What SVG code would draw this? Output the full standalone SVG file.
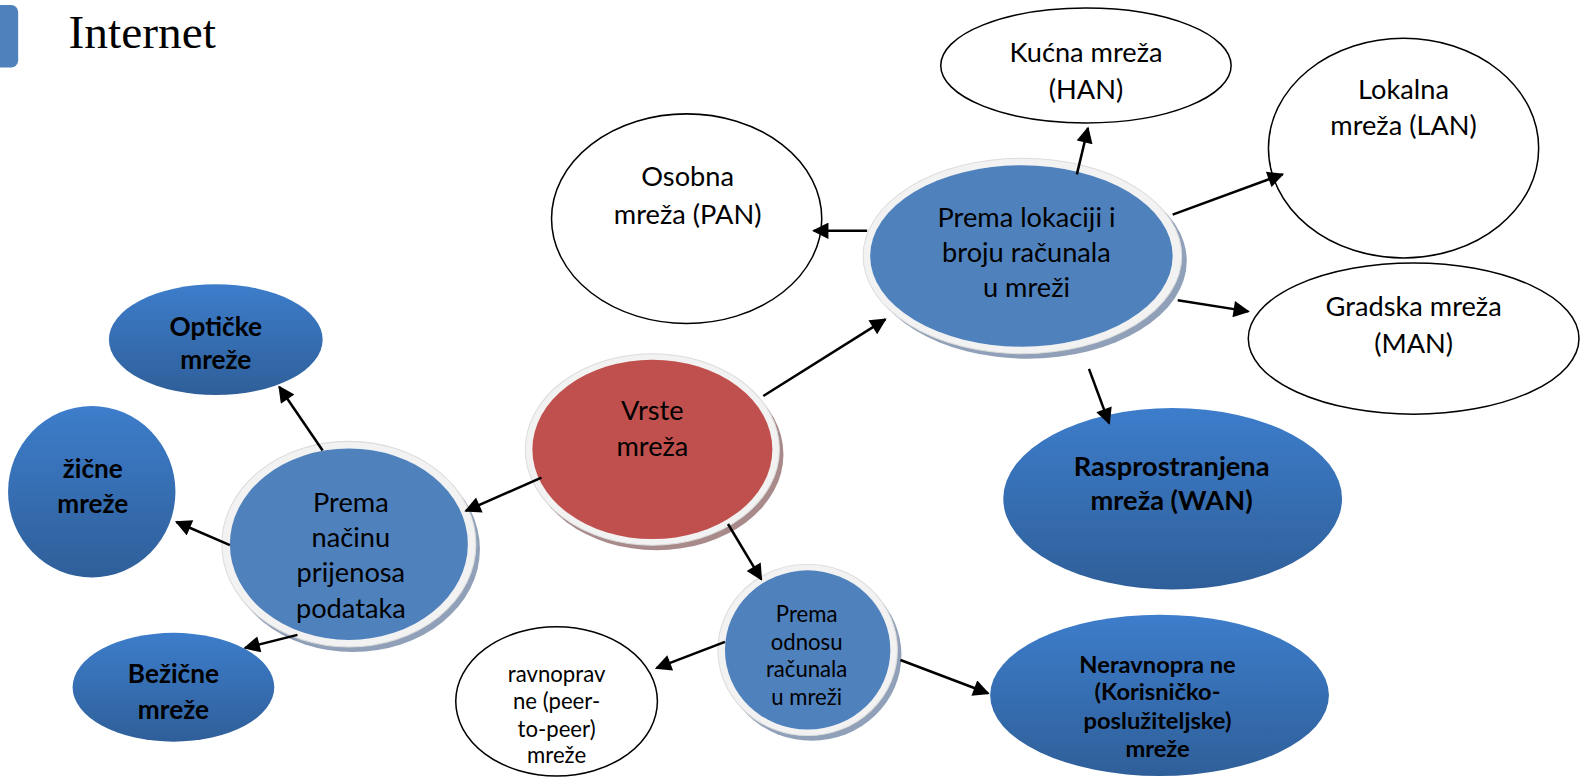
<svg xmlns="http://www.w3.org/2000/svg" width="1581" height="781" viewBox="0 0 1581 781">
<defs>
<style>
.t{font-family:Lato,"Noto Sans",sans-serif;fill:#000;text-anchor:middle}
.r{font-size:27px}
.b{font-size:26px;font-weight:bold}
.s{font-size:22px}
.nb{font-size:23.5px;font-weight:bold}
.wn{fill:#fff;stroke:#000;stroke-width:1.5}
.rim{fill:#f2f2f2;stroke:#dcdcdc;stroke-width:1}
.pb{fill:#4f81bd}
.sb{fill:#8fa0b8}
.sr{fill:#a88a8a}
.bb{fill:url(#gb)}
.c line{stroke:#000;stroke-width:2.5;marker-end:url(#ah)}
</style>
<linearGradient id="gb" x1="0" y1="0" x2="0" y2="1">
<stop offset="0" stop-color="#3d7dcb"/>
<stop offset="1" stop-color="#2f5f99"/>
</linearGradient>
<marker id="ah" viewBox="0 0 10 10" refX="9" refY="5" markerWidth="7" markerHeight="6.5" orient="auto" markerUnits="strokeWidth">
<path d="M0,0 L10,5 L0,10 Z" fill="#000"/>
</marker>
</defs>
<rect width="1581" height="781" fill="#fff"/>
<g transform="scale(1.0083,1.0077)">
<g id="title">
<rect x="-10" y="5" width="28" height="62" rx="7" fill="#4f81bd"/>
<text x="68" y="48" style="font-family:'Liberation Serif',serif;font-size:47px">Internet</text>
</g>
<g id="kucna">
<ellipse class="wn" cx="1077" cy="65" rx="144" ry="57"/>
<text class="t r" x="1077" y="62">Kućna mreža</text>
<text class="t r" x="1077" y="98">(HAN)</text>
</g>
<g id="lokalna">
<ellipse class="wn" cx="1392" cy="147" rx="134" ry="109"/>
<text class="t r" x="1392" y="98">Lokalna</text>
<text class="t r" x="1392" y="134">mreža (LAN)</text>
</g>
<g id="osobna">
<ellipse class="wn" cx="681" cy="217" rx="134" ry="104"/>
<text class="t r" x="682" y="185">Osobna</text>
<text class="t r" x="682" y="222">mreža (PAN)</text>
</g>
<g id="lokacija">
<ellipse class="sb" cx="1019" cy="259" rx="158" ry="97"/>
<ellipse class="rim" cx="1014" cy="254" rx="158" ry="97"/>
<ellipse class="pb" cx="1013" cy="254" rx="150" ry="90"/>
<text class="t r" x="1018" y="225">Prema lokaciji i</text>
<text class="t r" x="1018" y="260">broju računala</text>
<text class="t r" x="1018" y="295">u mreži</text>
</g>
<g id="gradska">
<ellipse class="wn" cx="1402" cy="336" rx="164" ry="75"/>
<text class="t r" x="1402" y="314">Gradska mreža</text>
<text class="t r" x="1402" y="350">(MAN)</text>
</g>
<g id="wan">
<ellipse class="bb" cx="1163" cy="495" rx="168" ry="90"/>
<text class="t b" style="font-size:27px" x="1162" y="472">Rasprostranjena</text>
<text class="t b" style="font-size:27px" x="1162" y="506">mreža (WAN)</text>
</g>
<g id="vrste">
<ellipse class="sr" cx="651" cy="451" rx="126" ry="95"/>
<ellipse class="rim" cx="647" cy="446" rx="126" ry="95"/>
<ellipse fill="#c0504d" cx="647" cy="446" rx="119" ry="89"/>
<text class="t r" x="647" y="417">Vrste</text>
<text class="t r" x="647" y="453">mreža</text>
</g>
<g id="opticke">
<ellipse class="bb" cx="214" cy="337" rx="106" ry="55"/>
<text class="t b" x="214" y="333">Optičke</text>
<text class="t b" x="214" y="366">mreže</text>
</g>
<g id="zicne">
<ellipse class="bb" cx="91" cy="488" rx="83" ry="85"/>
<text class="t b" x="92" y="474">žične</text>
<text class="t b" x="92" y="509">mreže</text>
</g>
<g id="nacin">
<ellipse class="sb" cx="350" cy="545" rx="126" ry="102"/>
<ellipse class="rim" cx="346" cy="540" rx="126" ry="102"/>
<ellipse class="pb" cx="346" cy="540" rx="118" ry="95"/>
<text class="t r" x="348" y="508">Prema</text>
<text class="t r" x="348" y="543">načinu</text>
<text class="t r" x="348" y="578">prijenosa</text>
<text class="t r" x="348" y="613">podataka</text>
</g>
<g id="bezicne">
<ellipse class="bb" cx="172" cy="682" rx="100" ry="54"/>
<text class="t b" x="172" y="678">Bežične</text>
<text class="t b" x="172" y="714">mreže</text>
</g>
<g id="ravnopravne">
<ellipse class="wn" cx="552" cy="696" rx="100" ry="74"/>
<text class="t s" x="552" y="677">ravnoprav</text>
<text class="t s" x="552" y="704">ne (peer-</text>
<text class="t s" x="552" y="731">to-peer)</text>
<text class="t s" x="552" y="757">mreže</text>
</g>
<g id="odnos">
<ellipse class="sb" cx="805" cy="650" rx="89" ry="85"/>
<ellipse class="rim" cx="801" cy="645" rx="89" ry="85"/>
<ellipse class="pb" cx="801" cy="645" rx="82" ry="79"/>
<text class="t s" x="800" y="617">Prema</text>
<text class="t s" x="800" y="645">odnosu</text>
<text class="t s" x="800" y="672">računala</text>
<text class="t s" x="800" y="700">u mreži</text>
</g>
<g id="neravnopravne">
<ellipse class="bb" cx="1150" cy="690" rx="168" ry="80"/>
<text class="t nb" x="1148" y="668">Neravnopra ne</text>
<text class="t nb" x="1148" y="695">(Korisničko-</text>
<text class="t nb" x="1148" y="723">poslužiteljske)</text>
<text class="t nb" x="1148" y="751">mreže</text>
</g>
<g class="c" id="connectors">
<line x1="757" y1="393" x2="878" y2="317"/>
<line x1="537" y1="474" x2="462" y2="507"/>
<line x1="722" y1="520" x2="755" y2="575"/>
<line x1="860" y1="229" x2="807" y2="229"/>
<line x1="1068" y1="173" x2="1079" y2="127"/>
<line x1="1163" y1="213" x2="1272" y2="173"/>
<line x1="1168" y1="298" x2="1238" y2="309"/>
<line x1="1080" y1="366" x2="1100" y2="420"/>
<line x1="320" y1="447" x2="277" y2="384"/>
<line x1="228" y1="541" x2="175" y2="518"/>
<line x1="295" y1="630" x2="243" y2="643"/>
<line x1="719" y1="637" x2="651" y2="663"/>
<line x1="893" y1="655" x2="980" y2="688"/>
</g>
</g>
</svg>
